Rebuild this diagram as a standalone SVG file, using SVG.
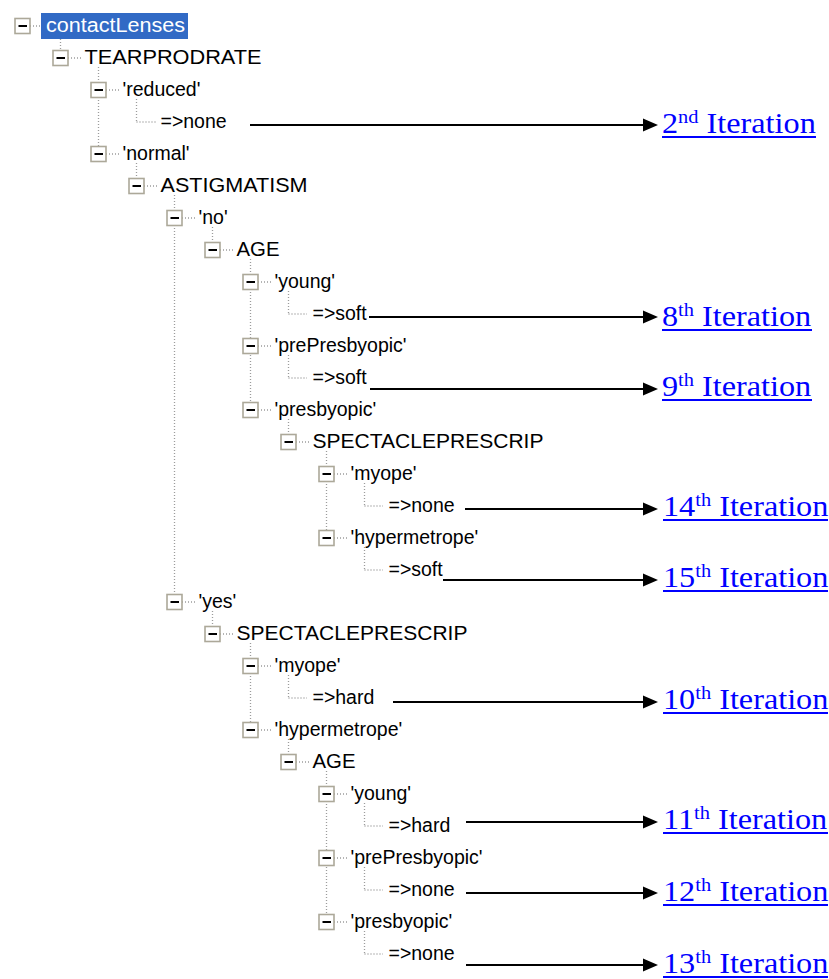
<svg xmlns="http://www.w3.org/2000/svg" width="829" height="979" viewBox="0 0 829 979">
<style>
.t{font-family:"Liberation Sans",Arial,sans-serif;font-size:19.5px;fill:#000}
.w{fill:#fff}
.d{stroke:#9c9c9c;stroke-width:1.3;stroke-dasharray:1 2;fill:none}
.a{stroke:#000;stroke-width:2;fill:none}
.ah{fill:#000}
.l{font-family:"Liberation Serif","Times New Roman",serif;font-size:30px;fill:#0000ff}
.s{font-size:19px}
.u{fill:#0000ff}
</style>
<defs>
<g id="bx"><rect x="-7.5" y="-7.5" width="15" height="15" fill="#fff" stroke="#aca899" stroke-width="1.6"/><line x1="-4" y1="0" x2="4.5" y2="0" stroke="#000" stroke-width="2"/></g>
</defs>
<rect width="829" height="979" fill="#fff"/>
<g id="connectors">
<path class="d" d="M60.5 39V58 M98.5 67V154 M136.5 99V122 M136.5 163V186 M174.5 195V602 M212.5 227V250 M250.5 259V410 M288.5 291V314 M288.5 355V378 M288.5 419V442 M326.5 451V538 M364.5 483V506 M364.5 547V570 M212.5 611V634 M250.5 643V730 M288.5 675V698 M288.5 739V762 M326.5 771V922 M364.5 803V826 M364.5 867V890 M364.5 931V954"/>
<path class="d" d="M30 26H42 M68 58H81 M106 90H119 M136.5 122H156 M106 154H119 M144 186H157 M182 218H195 M220 250H233 M258 282H271 M288.5 314H307 M258 346H271 M288.5 378H307 M258 410H271 M296 442H309 M334 474H347 M364.5 506H383 M334 538H347 M364.5 570H383 M182 602H195 M220 634H233 M258 666H271 M288.5 698H307 M258 730H271 M296 762H309 M334 794H347 M364.5 826H383 M334 858H347 M364.5 890H383 M334 922H347 M364.5 954H383"/>
<path class="a" d="M250 125H645 M369 317H645 M370 389H645 M465 509H645 M443 580H645 M393 702H645 M466 822H645 M466 893H645 M466 965H645"/>
<polygon class="ah" points="643,118.5 658,125 643,131.5"/>
<polygon class="ah" points="643,310.5 658,317 643,323.5"/>
<polygon class="ah" points="643,382.5 658,389 643,395.5"/>
<polygon class="ah" points="643,502.5 658,509 643,515.5"/>
<polygon class="ah" points="643,573.5 658,580 643,586.5"/>
<polygon class="ah" points="643,695.5 658,702 643,708.5"/>
<polygon class="ah" points="643,815.5 658,822 643,828.5"/>
<polygon class="ah" points="643,886.5 658,893 643,899.5"/>
<polygon class="ah" points="643,958.5 658,965 643,971.5"/>
</g>
<g id="n0"><use href="#bx" x="22.5" y="26"/><rect x="41" y="13" width="147" height="26" fill="#316ac5"/><text class="t w" x="46" y="32" textLength="139" lengthAdjust="spacingAndGlyphs">contactLenses</text></g>
<g id="n1"><use href="#bx" x="60.5" y="58"/><text class="t" x="84.5" y="64" textLength="177" lengthAdjust="spacingAndGlyphs">TEARPRODRATE</text></g>
<g id="n2"><use href="#bx" x="98.5" y="90"/><text class="t" x="122.5" y="96">'reduced'</text></g>
<g id="n3"><text class="t" x="160.5" y="128">=&gt;none</text></g>
<g id="n4"><use href="#bx" x="98.5" y="154"/><text class="t" x="122.5" y="160">'normal'</text></g>
<g id="n5"><use href="#bx" x="136.5" y="186"/><text class="t" x="160.5" y="192" textLength="147" lengthAdjust="spacingAndGlyphs">ASTIGMATISM</text></g>
<g id="n6"><use href="#bx" x="174.5" y="218"/><text class="t" x="198.5" y="224">'no'</text></g>
<g id="n7"><use href="#bx" x="212.5" y="250"/><text class="t" x="236.5" y="256" textLength="43" lengthAdjust="spacingAndGlyphs">AGE</text></g>
<g id="n8"><use href="#bx" x="250.5" y="282"/><text class="t" x="274.5" y="288">'young'</text></g>
<g id="n9"><text class="t" x="312.5" y="320">=&gt;soft</text></g>
<g id="n10"><use href="#bx" x="250.5" y="346"/><text class="t" x="274.5" y="352">'prePresbyopic'</text></g>
<g id="n11"><text class="t" x="312.5" y="384">=&gt;soft</text></g>
<g id="n12"><use href="#bx" x="250.5" y="410"/><text class="t" x="274.5" y="416">'presbyopic'</text></g>
<g id="n13"><use href="#bx" x="288.5" y="442"/><text class="t" x="312.5" y="448" textLength="231" lengthAdjust="spacingAndGlyphs">SPECTACLEPRESCRIP</text></g>
<g id="n14"><use href="#bx" x="326.5" y="474"/><text class="t" x="350.5" y="480">'myope'</text></g>
<g id="n15"><text class="t" x="388.5" y="512">=&gt;none</text></g>
<g id="n16"><use href="#bx" x="326.5" y="538"/><text class="t" x="350.5" y="544">'hypermetrope'</text></g>
<g id="n17"><text class="t" x="388.5" y="576">=&gt;soft</text></g>
<g id="n18"><use href="#bx" x="174.5" y="602"/><text class="t" x="198.5" y="608">'yes'</text></g>
<g id="n19"><use href="#bx" x="212.5" y="634"/><text class="t" x="236.5" y="640" textLength="231" lengthAdjust="spacingAndGlyphs">SPECTACLEPRESCRIP</text></g>
<g id="n20"><use href="#bx" x="250.5" y="666"/><text class="t" x="274.5" y="672">'myope'</text></g>
<g id="n21"><text class="t" x="312.5" y="704">=&gt;hard</text></g>
<g id="n22"><use href="#bx" x="250.5" y="730"/><text class="t" x="274.5" y="736">'hypermetrope'</text></g>
<g id="n23"><use href="#bx" x="288.5" y="762"/><text class="t" x="312.5" y="768" textLength="43" lengthAdjust="spacingAndGlyphs">AGE</text></g>
<g id="n24"><use href="#bx" x="326.5" y="794"/><text class="t" x="350.5" y="800">'young'</text></g>
<g id="n25"><text class="t" x="388.5" y="832">=&gt;hard</text></g>
<g id="n26"><use href="#bx" x="326.5" y="858"/><text class="t" x="350.5" y="864">'prePresbyopic'</text></g>
<g id="n27"><text class="t" x="388.5" y="896">=&gt;none</text></g>
<g id="n28"><use href="#bx" x="326.5" y="922"/><text class="t" x="350.5" y="928">'presbyopic'</text></g>
<g id="n29"><text class="t" x="388.5" y="960">=&gt;none</text></g>
<g id="lab2"><text class="l" transform="translate(662 133) scale(1.075 1)">2<tspan class="s" dy="-10">nd</tspan><tspan dy="10"> Iteration</tspan></text><rect class="u" x="662" y="136" width="154" height="2"/></g>
<g id="lab8"><text class="l" transform="translate(662 326) scale(1.075 1)">8<tspan class="s" dy="-10">th</tspan><tspan dy="10"> Iteration</tspan></text><rect class="u" x="662" y="329" width="150" height="2"/></g>
<g id="lab9"><text class="l" transform="translate(662 396) scale(1.075 1)">9<tspan class="s" dy="-10">th</tspan><tspan dy="10"> Iteration</tspan></text><rect class="u" x="662" y="399" width="150" height="2"/></g>
<g id="lab14"><text class="l" transform="translate(663 516) scale(1.075 1)">14<tspan class="s" dy="-10">th</tspan><tspan dy="10"> Iteration</tspan></text><rect class="u" x="663" y="519" width="165" height="2"/></g>
<g id="lab15"><text class="l" transform="translate(663 587) scale(1.075 1)">15<tspan class="s" dy="-10">th</tspan><tspan dy="10"> Iteration</tspan></text><rect class="u" x="663" y="590" width="165" height="2"/></g>
<g id="lab10"><text class="l" transform="translate(663 709) scale(1.075 1)">10<tspan class="s" dy="-10">th</tspan><tspan dy="10"> Iteration</tspan></text><rect class="u" x="663" y="712" width="165" height="2"/></g>
<g id="lab11"><text class="l" transform="translate(663 829) scale(1.075 1)">11<tspan class="s" dy="-10">th</tspan><tspan dy="10"> Iteration</tspan></text><rect class="u" x="663" y="832" width="165" height="2"/></g>
<g id="lab12"><text class="l" transform="translate(663 901) scale(1.075 1)">12<tspan class="s" dy="-10">th</tspan><tspan dy="10"> Iteration</tspan></text><rect class="u" x="663" y="904" width="165" height="2"/></g>
<g id="lab13"><text class="l" transform="translate(663 973) scale(1.075 1)">13<tspan class="s" dy="-10">th</tspan><tspan dy="10"> Iteration</tspan></text><rect class="u" x="663" y="976" width="165" height="2"/></g>
</svg>
